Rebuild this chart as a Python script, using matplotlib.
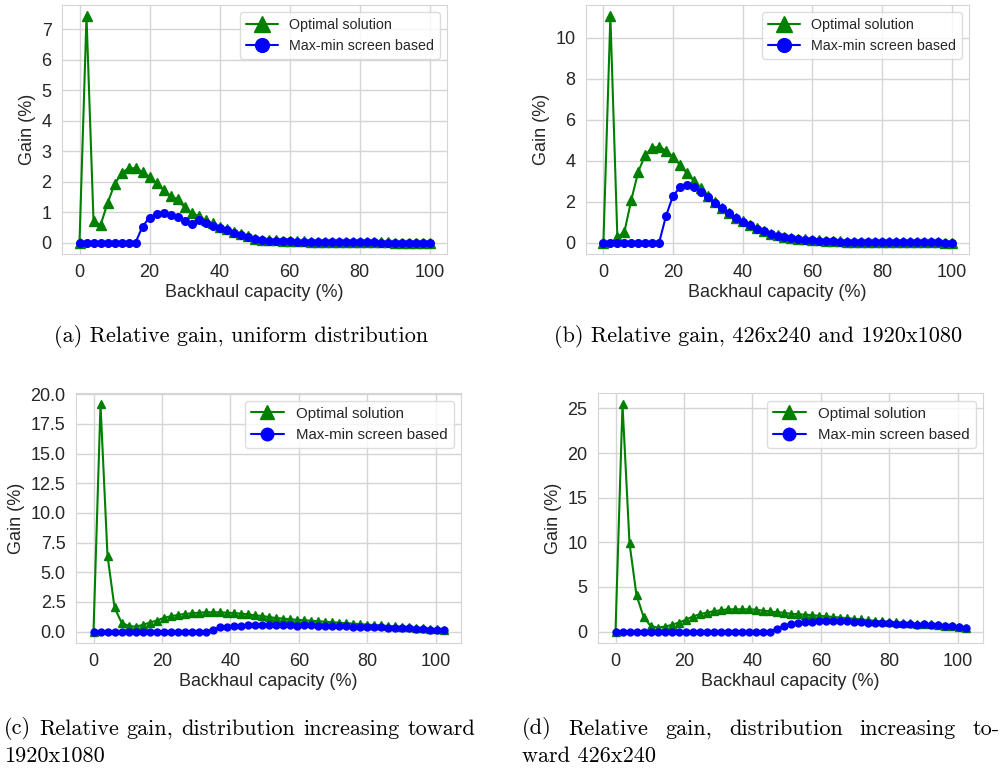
import numpy as np
import matplotlib
matplotlib.use("Agg")
import matplotlib.pyplot as plt
import seaborn as sns

sns.set_style("whitegrid")
plt.rcParams['font.family'] = ['Liberation Sans', 'DejaVu Sans']

# x axes: backhaul capacity (%)
x_ab = np.linspace(0, 100, 51)
x_cd = np.linspace(0, 102.3, 51)

# (a) uniform distribution
opt_a = [0, 7.42, 0.72, 0.57, 1.29, 1.91, 2.28, 2.44, 2.44, 2.32,
         2.16, 1.95, 1.73, 1.53, 1.42, 1.16, 0.98, 0.87, 0.74, 0.63,
         0.53, 0.44, 0.36, 0.30, 0.21, 0.13, 0.10, 0.09, 0.08, 0.07,
         0.05, 0.04, 0.04, 0.03, 0.03, 0.02, 0.02, 0.02, 0.01, 0.01,
         0.01, 0.01, 0.01, 0.01, 0.01, 0.0, 0.0, 0.0, 0.0, 0.0, 0.0]
mm_a = [0, 0, 0, 0, 0, 0, 0, 0, 0, 0.53,
        0.82, 0.95, 0.96, 0.91, 0.83, 0.72, 0.61, 0.74, 0.66, 0.55,
        0.48, 0.41, 0.33, 0.25, 0.17, 0.11, 0.09, 0.07, 0.06, 0.05,
        0.04, 0.03, 0.03, 0.02, 0.02, 0.02, 0.01, 0.01, 0.01, 0.01,
        0.01, 0.01, 0.01, 0.0, 0.0, 0.0, 0.0, 0.0, 0.0, 0.0, 0.0]

# (b) 426x240 and 1920x1080
opt_b = [0, 11.05, 0.29, 0.5, 2.08, 3.46, 4.28, 4.63, 4.68, 4.49,
         4.2, 3.79, 3.38, 3.01, 2.65, 2.26, 1.97, 1.69, 1.45, 1.22,
         1.04, 0.87, 0.7, 0.56, 0.44, 0.36, 0.29, 0.24, 0.19, 0.16,
         0.13, 0.11, 0.09, 0.07, 0.06, 0.05, 0.04, 0.04, 0.03, 0.03,
         0.02, 0.02, 0.02, 0.01, 0.01, 0.01, 0.01, 0.01, 0.01, 0.0, 0.0]
mm_b = [0, 0, 0, 0, 0, 0, 0, 0, 0, 1.32,
        2.29, 2.7, 2.81, 2.7, 2.47, 2.21, 1.95, 1.67, 1.43, 1.2,
        1.02, 0.85, 0.68, 0.55, 0.43, 0.35, 0.28, 0.23, 0.18, 0.15,
        0.12, 0.1, 0.08, 0.06, 0.05, 0.04, 0.04, 0.03, 0.03, 0.02,
        0.02, 0.02, 0.02, 0.01, 0.01, 0.01, 0.01, 0.01, 0.01, 0.0, 0.0]

# (c) distribution increasing toward 1920x1080
opt_c = [0, 19.15, 6.4, 2.05, 0.76, 0.48, 0.42, 0.56, 0.76, 0.93,
         1.15, 1.29, 1.40, 1.49, 1.54, 1.60, 1.63, 1.63, 1.63, 1.60,
         1.57, 1.52, 1.46, 1.38, 1.32, 1.24, 1.15, 1.10, 1.05, 1.0,
         0.96, 0.92, 0.88, 0.84, 0.80, 0.76, 0.72, 0.68, 0.64, 0.60,
         0.56, 0.52, 0.48, 0.44, 0.41, 0.38, 0.34, 0.30, 0.25, 0.20, 0.15]
mm_c = [0, 0, 0, 0, 0, 0, 0, 0, 0, 0,
        0, 0, 0, 0, 0, 0, 0, 0.18, 0.35, 0.42,
        0.46, 0.50, 0.52, 0.53, 0.54, 0.55, 0.55, 0.55, 0.52, 0.50,
        0.52, 0.52, 0.50, 0.50, 0.48, 0.47, 0.45, 0.43, 0.42, 0.40,
        0.38, 0.36, 0.34, 0.32, 0.30, 0.28, 0.25, 0.22, 0.18, 0.14, 0.10]

# (d) distribution increasing toward 426x240
opt_d = [0, 25.45, 9.9, 4.07, 1.68, 0.64, 0.45, 0.56, 0.75, 1.0,
         1.3, 1.68, 1.94, 2.13, 2.28, 2.39, 2.5, 2.5, 2.5, 2.5,
         2.47, 2.35, 2.28, 2.17, 2.13, 2.0, 1.95, 1.9, 1.85, 1.78,
         1.72, 1.65, 1.58, 1.52, 1.45, 1.38, 1.3, 1.22, 1.15, 1.1,
         1.05, 1.0, 0.95, 0.9, 0.86, 0.8, 0.74, 0.68, 0.6, 0.53, 0.46]
mm_d = [0, 0, 0, 0, 0, 0, 0, 0, 0, 0,
        0, 0, 0, 0, 0, 0, 0, 0, 0, 0,
        0, 0, 0, 0.3, 0.6, 0.85, 1.0, 1.05, 1.1, 1.15,
        1.18, 1.2, 1.18, 1.15, 1.1, 1.05, 1.0, 0.97, 0.95, 0.92,
        0.88, 0.85, 0.8, 0.78, 0.82, 0.75, 0.7, 0.65, 0.58, 0.52, 0.45]

captions = ['(a) Relative gain, uniform distribution',
            '(b) Relative gain, 426x240 and 1920x1080']

W, H = 1006, 768
fig = plt.figure(figsize=(W / 100, H / 100), dpi=100)

def px_axes(l, t, r, b):
    return fig.add_axes([l / W, 1 - b / H, (r - l) / W, (b - t) / H])

panels = [
    (px_axes(62, 5, 447, 254), x_ab, opt_a, mm_a, 13, 10.3, 6.5, 5.5),
    (px_axes(586, 5, 969, 254), x_ab, opt_b, mm_b, 13, 10.3, 6.5, 5.5),
    (px_axes(76, 393, 461, 643), x_cd, opt_c, mm_c, 13, 10.8, 5.5, 5),
    (px_axes(598, 393, 983, 643), x_cd, opt_d, mm_d, 13, 10.8, 5.5, 5),
]

for ax, x, opt, mm, fs, lfs, ms_t, ms_o in panels:
    ax.plot(x, opt, color='green', marker='^', markersize=ms_t, lw=1.5,
            label='Optimal solution')
    ax.plot(x, mm, color='blue', marker='o', markersize=ms_o, lw=1.5,
            label='Max-min screen based')
    ax.set_xlabel('Backhaul capacity (%)', fontsize=fs, color='#262626', labelpad=2)
    ax.set_ylabel('Gain (%)', fontsize=fs, color='#262626', labelpad=4)
    ax.tick_params(labelsize=fs, colors='#262626', pad=4)
    ax.set_xticks([0, 20, 40, 60, 80, 100])
    ax.grid(color='#d5d5d5', lw=1)
    for s in ax.spines.values():
        s.set_color('#d5d5d5')
    leg = ax.legend(loc='upper right', fontsize=lfs, markerscale=1.8,
                    frameon=True, borderpad=0.4, handlelength=2.2)
    leg.get_frame().set_edgecolor('#d5d5d5')

panels[0][0].set_yticks(range(8))
panels[1][0].set_yticks([0, 2, 4, 6, 8, 10])
panels[2][0].set_yticks([0, 2.5, 5, 7.5, 10, 12.5, 15, 17.5, 20])
panels[2][0].set_yticklabels(['0.0', '2.5', '5.0', '7.5', '10.0', '12.5',
                              '15.0', '17.5', '20.0'])
panels[3][0].set_yticks([0, 5, 10, 15, 20, 25])

cap_font = dict(family='cmr10', fontsize=16, color='black')

fig.text(241 / W, 1 - 337 / H, captions[0], ha='center', va='center', **cap_font)
fig.text(758 / W, 1 - 337 / H, captions[1], ha='center', va='center', **cap_font)


def justify(words, x0, x1, y):
    # place words so the line runs from x0 to x1 (pixels)
    texts = [fig.text(0, 1 - y / H, w, ha='left', va='center', **cap_font) for w in words]
    fig.canvas.draw()
    r = fig.canvas.get_renderer()
    widths = [t.get_window_extent(r).width for t in texts]
    gap = (x1 - x0 - sum(widths)) / (len(words) - 1)
    pos = x0
    for t, w in zip(texts, widths):
        t.set_x(pos / W)
        pos += w + gap


justify(['(c)', 'Relative', 'gain,', 'distribution', 'increasing', 'toward'], 4, 475, 729)
fig.text(4 / W, 1 - 756 / H, '1920x1080', ha='left', va='center', **cap_font)
justify(['(d)', 'Relative', 'gain,', 'distribution', 'increasing', 'to-'], 522, 1000, 729)
fig.text(522 / W, 1 - 756 / H, 'ward 426x240', ha='left', va='center', **cap_font)

fig.savefig('out.png', dpi=100)
